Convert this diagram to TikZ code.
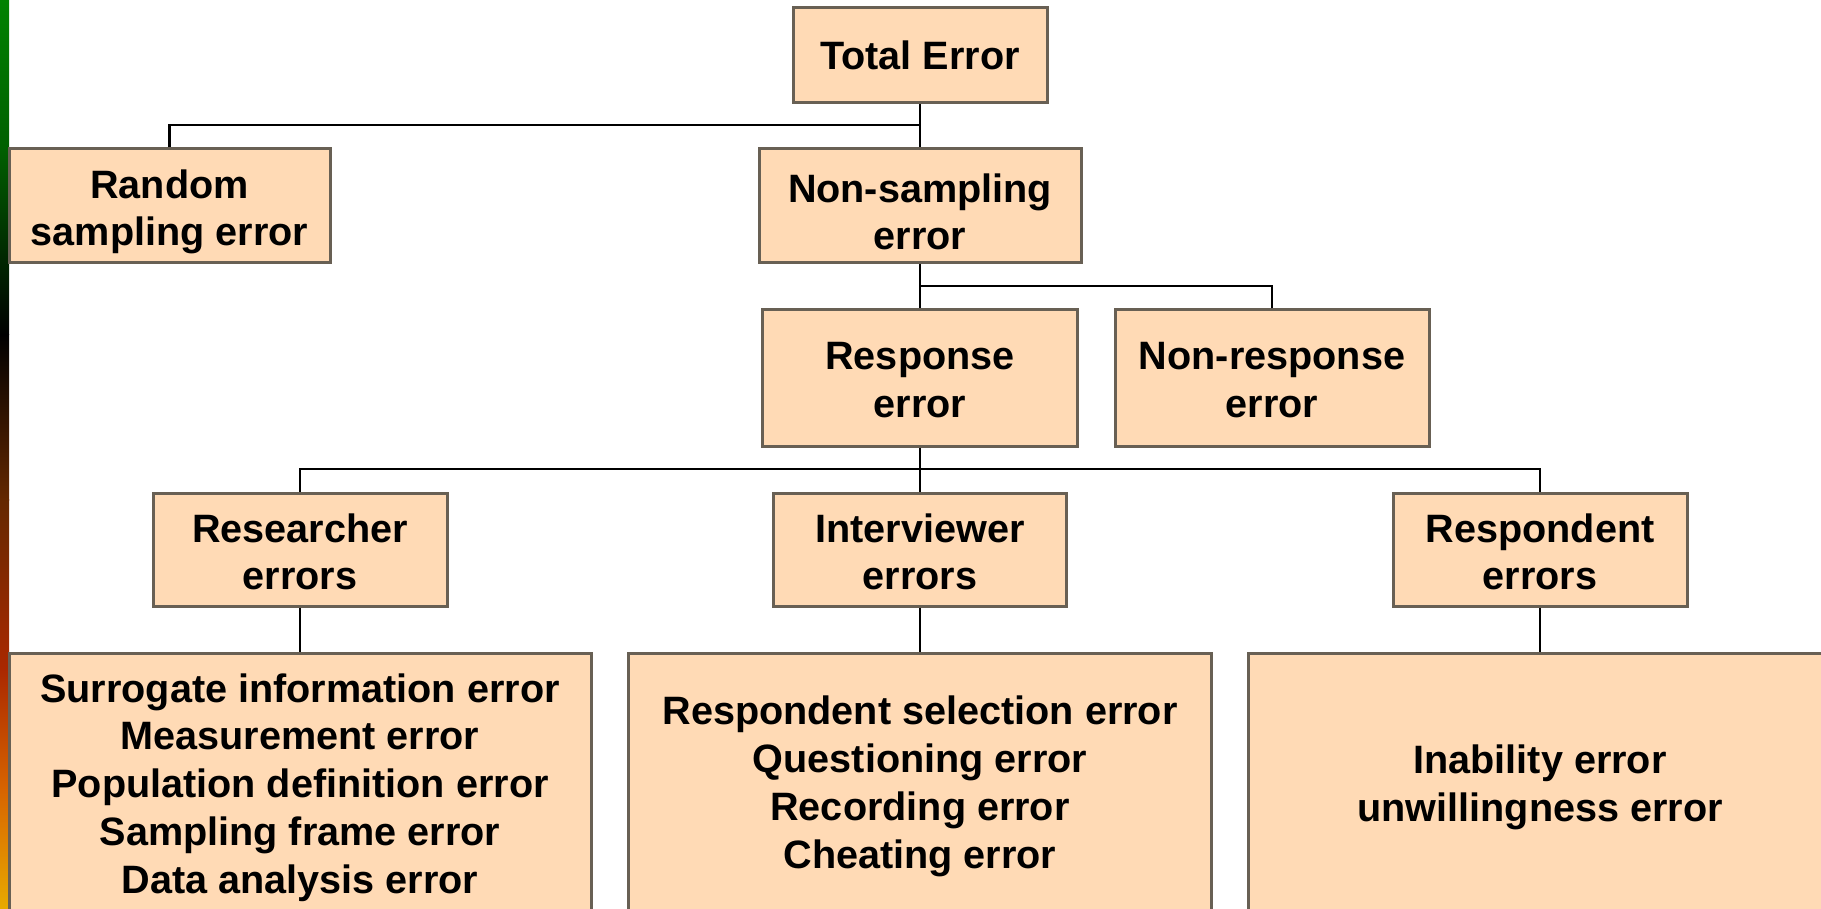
\documentclass[tikz,border=0pt]{standalone}
\usepackage{fontspec}
\setmainfont{Liberation Sans}
\begin{document}
\begin{tikzpicture}[x=0.5pt,y=-0.5pt,
  box/.style={draw=boxline, fill=boxfill, line width=1.5pt, inner sep=0pt},
  txt/.style={inner sep=0pt, align=center, text=black,
    font=\fontsize{19.8pt}{23.9pt}\selectfont\bfseries},
  conn/.style={draw=black, line width=1.45pt}]
\definecolor{boxfill}{RGB}{255,218,181}
\definecolor{boxline}{RGB}{104,96,84}
\definecolor{gA}{RGB}{0,130,0}
\definecolor{gB}{RGB}{0,95,0}
\definecolor{gC}{RGB}{0,0,0}
\definecolor{gD}{RGB}{100,40,0}
\definecolor{gE}{RGB}{170,40,0}
\definecolor{gF}{RGB}{215,100,0}
\definecolor{gG}{RGB}{232,170,0}
\useasboundingbox (0,0) rectangle (1821,909);
\fill[white] (0,0) rectangle (1821,909);
% side bar
\shade[top color=gA, bottom color=gB] (0,0) rectangle (9,150);
\shade[top color=gB, bottom color=gC] (0,149.5) rectangle (9,335);
\shade[top color=gC, bottom color=gD] (0,334.5) rectangle (9,500);
\shade[top color=gD, bottom color=gE] (0,499.5) rectangle (9,670);
\shade[top color=gE, bottom color=gF] (0,669.5) rectangle (9,790);
\shade[top color=gF, bottom color=gG] (0,789.5) rectangle (9,909);
% boxes
\node[box, minimum width=127pt, minimum height=47.5pt] (total) at (920,55.5) {};
\node[box, minimum width=160.5pt, minimum height=57pt] (random) at (169.5,206) {};
\node[box, minimum width=161pt, minimum height=57pt] (nonsamp) at (920,206) {};
\node[box, minimum width=157.5pt, minimum height=68pt] (response) at (920,378) {};
\node[box, minimum width=157pt, minimum height=68pt] (nonresp) at (1272,378) {};
\node[box, minimum width=147pt, minimum height=56.5pt] (researcher) at (300,549.5) {};
\node[box, minimum width=146.5pt, minimum height=56.5pt] (interviewer) at (920,549.5) {};
\node[box, minimum width=147pt, minimum height=56.5pt] (respondent) at (1540,549.5) {};
\node[box, minimum width=291pt, minimum height=131pt] (list1) at (300,784) {};
\node[box, minimum width=291.5pt, minimum height=131pt] (list2) at (920,784) {};
\node[box, minimum width=292pt, minimum height=131pt] (list3) at (1540,784) {};
% texts
\node[txt] (totalt) at ([yshift=0pt]total.center) {Total Error};
\node[txt] (randomt) at ([yshift=-2.9pt]random.center) {Random\\sampling error};
\node[txt] (nonsampt) at ([yshift=-2.9pt]nonsamp.center) {Non-sampling\\error};
\node[txt] (responset) at ([yshift=-1.2pt]response.center) {Response\\error};
\node[txt] (nonrespt) at ([yshift=-1.2pt]nonresp.center) {Non-response\\error};
\node[txt] (researchert) at ([yshift=-1.2pt]researcher.center) {Researcher\\errors};
\node[txt] (interviewert) at ([yshift=-1.2pt]interviewer.center) {Interviewer\\errors};
\node[txt] (respondentt) at ([yshift=-1.2pt]respondent.center) {Respondent\\errors};
\node[txt] (list1t) at ([yshift=-1.7pt]list1.center) {Surrogate information error\\Measurement error\\Population definition error\\Sampling frame error\\Data analysis error};
\node[txt] (list2t) at ([yshift=-1.2pt]list2.center) {Respondent selection error\\Questioning error\\Recording error\\Cheating error};
\node[txt] (list3t) at ([yshift=-1.7pt]list3.center) {Inability error\\unwillingness error};
% junctions
\coordinate (j1) at (920,125);
\coordinate (j2) at (920,286);
\coordinate (j3) at (920,469);
% connectors
\draw[conn] (total.south) -- (nonsamp.north);
\draw[conn] (random.north) |- (j1);
\draw[conn] (nonsamp.south) -- (response.north);
\draw[conn] (nonresp.north) |- (j2);
\draw[conn] (response.south) -- (interviewer.north);
\draw[conn] (researcher.north) |- (j3);
\draw[conn] (respondent.north) |- (j3);
\draw[conn] (researcher.south) -- (list1.north);
\draw[conn] (interviewer.south) -- (list2.north);
\draw[conn] (respondent.south) -- (list3.north);
\end{tikzpicture}
\end{document}
